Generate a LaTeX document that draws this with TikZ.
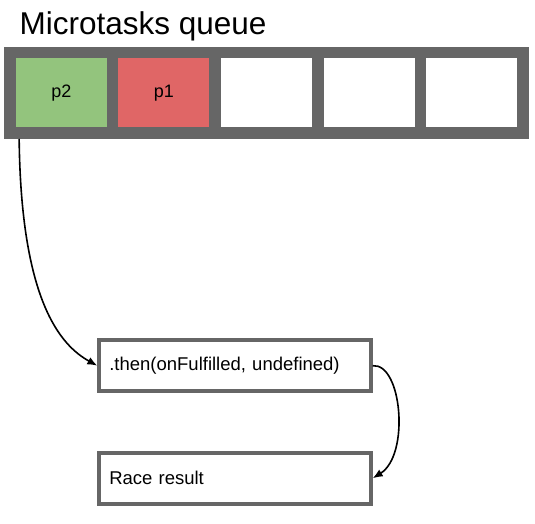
\documentclass[tikz,border=0pt]{standalone}
\usepackage{fontspec}
\setmainfont{Liberation Sans}
\usetikzlibrary{arrows.meta}

\definecolor{qgray}{HTML}{666666}
\definecolor{qgreen}{HTML}{93C47D}
\definecolor{qred}{HTML}{E06666}

\tikzset{
  cell/.style={draw=qgray, line width=11.7pt, minimum width=102.6pt, minimum height=80.6pt, inner sep=0pt, font=\fontsize{18}{20}\selectfont},
  box/.style={draw=qgray, line width=4pt, minimum height=50.7pt, text width=251.4pt, inner xsep=10pt, align=left, font=\fontsize{18.5}{22}\selectfont},
  link/.style={-{Latex[length=10pt,width=8pt]}, line width=1.6pt}
}

\begin{document}
\begin{tikzpicture}[x=1pt,y=-1pt]
\useasboundingbox (0,0) rectangle (535,524);
\node[anchor=base west, inner sep=0pt, font=\fontsize{31.5}{36}\selectfont] (title) at (19.5,35){Microtasks queue};
\node[cell, fill=qgreen] (cell1) at (61.3,92.85){p2};
\node[cell, fill=qred] (cell2) at (163.9,92.85){p1};
\node[cell, fill=white] (cell3) at (266.5,92.85){};
\node[cell, fill=white] (cell4) at (369.1,92.85){};
\node[cell, fill=white] (cell5) at (471.7,92.85){};
\coordinate (qout) at ([xshift=15pt]cell1.south west);
\node[box] (thenbox) at (235,365.7){.then(onFulfilled, undefined)};
\node[box] (resultbox) at (235,478.25){Race result};
\draw[link] (qout) .. controls (21,300) and (60,345) .. (thenbox.west);
\draw[link] (thenbox.east) .. controls (402,363) and (410,455) .. (resultbox.east);
\end{tikzpicture}
\end{document}
